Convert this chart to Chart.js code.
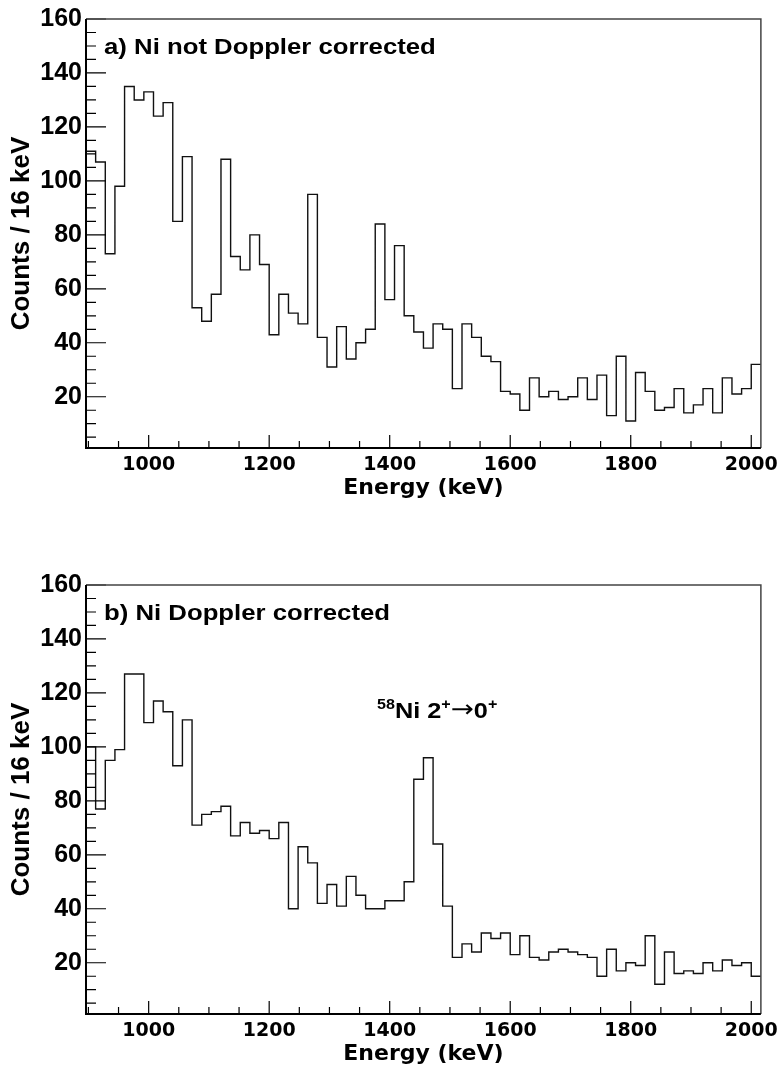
<!DOCTYPE html>
<html>
<head>
<meta charset="utf-8">
<script src="https://cdn.jsdelivr.net/npm/chart.js@4.4.1/dist/chart.umd.min.js"></script>
<style>
  body { margin: 0; background: #fff; }
  .panel { position: absolute; left: 0; width: 784px; height: 504px; }
</style>
</head>
<body>
<div class="panel" style="top:0px"><canvas id="panelA"></canvas></div>
<div class="panel" style="top:566px"><canvas id="panelB"></canvas></div>
<script>
// histogram binning (keV)
const binStart = 896;
const binWidth = 16;

// counts per 16 keV bin
const countsNotCorrected = [
  111, 107, 73, 98, 135, 130, 133, 124, 129, 85,
  109, 53, 48, 58, 108, 72, 67, 80, 69, 43,
  58, 51, 47, 95, 42, 31, 46, 34, 40, 45,
  84, 56, 76, 50, 44, 38, 47, 45, 23, 47,
  42, 35, 33, 22, 21, 15, 27, 20, 22, 19,
  20, 27, 19, 28, 13, 35, 11, 29, 22, 15,
  16, 23, 14, 17, 23, 14, 27, 21, 23, 32
];
const countsCorrected = [
  100, 77, 95, 99, 127, 127, 109, 117, 113, 93,
  110, 71, 75, 76, 78, 67, 72, 68, 69, 66,
  72, 40, 63, 57, 42, 49, 41, 52, 45, 40,
  40, 43, 43, 50, 88, 96, 64, 41, 22, 27,
  24, 31, 29, 31, 23, 30, 22, 21, 24, 25,
  24, 23, 22, 15, 25, 17, 20, 19, 30, 12,
  24, 16, 17, 16, 20, 17, 21, 19, 20, 15
];

// axis labels
const xMajorTicks = [1000, 1200, 1400, 1600, 1800, 2000];
const yMajorTicks = [20, 40, 60, 80, 100, 120, 140, 160];
const xMinorStep = 50;
const yMinorStep = 5;

const xMin = binStart;
const xMax = binStart + binWidth * countsCorrected.length;
const yMin = 1;
const yMax = 160;

function histPoints(counts) {
  const pts = counts.map((c, i) => ({ x: binStart + i * binWidth, y: c }));
  pts.push({ x: binStart + counts.length * binWidth, y: counts[counts.length - 1] });
  return pts;
}

function stepTicks(lo, hi, step) {
  const out = [];
  for (let v = Math.ceil(lo / step) * step; v <= hi; v += step) out.push({ value: v });
  return out;
}

// draws the text with a slight horizontal stretch like the original figure
function drawParts(ctx, parts, x, y, sx) {
  parts.forEach(p => {
    ctx.font = p.font;
    ctx.save();
    ctx.translate(x, y + (p.dy || 0));
    ctx.scale(sx, 1);
    ctx.fillText(p.text, 0, 0);
    ctx.restore();
    x += ctx.measureText(p.text).width * sx;
  });
}

const B = '"Liberation Sans", Arial, Helvetica, sans-serif';

const frameAndTicks = {
  id: 'frameAndTicks',
  afterDatasetsDraw(chart) {
    const { ctx, chartArea: a, scales: { x, y } } = chart;
    ctx.save();
    ctx.strokeStyle = '#000';
    ctx.lineWidth = 1.2;
    ctx.beginPath();
    x.ticks.forEach(t => {
      const px = x.getPixelForValue(t.value);
      const len = xMajorTicks.includes(t.value) ? 13 : 7;
      ctx.moveTo(px, a.bottom);
      ctx.lineTo(px, a.bottom - len);
    });
    y.ticks.forEach(t => {
      const py = y.getPixelForValue(t.value);
      const len = yMajorTicks.includes(t.value) ? 20 : 10;
      ctx.moveTo(a.left, py);
      ctx.lineTo(a.left + len, py);
    });
    ctx.stroke();
    // top and right frame
    ctx.strokeStyle = '#444';
    ctx.lineWidth = 1.5;
    ctx.beginPath();
    ctx.moveTo(a.left, a.top);
    ctx.lineTo(a.right, a.top);
    ctx.lineTo(a.right, a.bottom);
    ctx.stroke();
    // axes
    ctx.strokeStyle = '#000';
    ctx.lineWidth = 2;
    ctx.beginPath();
    ctx.moveTo(a.left, a.top);
    ctx.lineTo(a.left, a.bottom);
    ctx.lineTo(a.right, a.bottom);
    ctx.stroke();
    ctx.restore();
  }
};

function textPlugin(title, annotation) {
  return {
    id: 'panelText',
    afterDraw(chart) {
      const { ctx, chartArea: a } = chart;
      ctx.save();
      ctx.fillStyle = '#000';
      ctx.textBaseline = 'alphabetic';
      drawParts(ctx, [{ text: title, font: 'bold 22px ' + B }], a.left + 18, a.top + 35, 1.17);
      if (annotation) {
        drawParts(ctx, annotation, a.left + 291, a.top + 133, 1.15);
      }
      ctx.restore();
    }
  };
}

function makePanel(id, counts, title, annotation) {
  return new Chart(document.getElementById(id), {
    type: 'line',
    data: {
      datasets: [{
        data: histPoints(counts),
        stepped: 'before',
        borderColor: '#111',
        borderWidth: 1.4,
        pointRadius: 0,
        fill: false
      }]
    },
    options: {
      responsive: true,
      maintainAspectRatio: false,
      animation: false,
      events: [],
      layout: { padding: { top: 14, right: 22, left: 0, bottom: 0 } },
      plugins: { legend: { display: false }, tooltip: { enabled: false } },
      scales: {
        x: {
          type: 'linear',
          min: xMin,
          max: xMax,
          afterBuildTicks: s => { s.ticks = stepTicks(900, xMax, xMinorStep); },
          afterFit: s => { s.height = 56; },
          grid: { display: false, drawTicks: false },
          border: { display: false },
          ticks: {
            autoSkip: false,
            maxRotation: 0,
            padding: 6,
            color: '#000',
            font: { family: '"DejaVu Sans"', weight: 'bold', size: 19 },
            callback: v => xMajorTicks.includes(v) ? String(v) : ''
          },
          title: {
            display: true,
            text: 'Energy (keV)',
            color: '#000',
            font: { family: '"DejaVu Sans"', weight: 'bold', size: 22 },
            padding: { top: 0, bottom: 3 }
          }
        },
        y: {
          min: yMin,
          max: yMax,
          afterBuildTicks: s => { s.ticks = stepTicks(yMinorStep, yMax, yMinorStep); },
          afterFit: s => { s.width = 86; },
          grid: { display: false, drawTicks: false },
          border: { display: false },
          ticks: {
            autoSkip: false,
            padding: 4,
            labelOffset: 0,
            color: '#000',
            font: { family: B, weight: 'bold', size: 25 },
            callback: v => yMajorTicks.includes(v) ? String(v) : ''
          },
          title: {
            display: true,
            text: 'Counts / 16 keV',
            color: '#000',
            font: { family: B, weight: 'bold', size: 26 },
            padding: { top: 6, bottom: 0 }
          }
        }
      }
    },
    plugins: [frameAndTicks, textPlugin(title, annotation)]
  });
}

makePanel('panelA', countsNotCorrected, 'a) Ni not Doppler corrected', null);
makePanel('panelB', countsCorrected, 'b) Ni Doppler corrected', [
  { text: '58', font: 'bold 14px ' + B, dy: -9 },
  { text: 'Ni 2', font: 'bold 22px ' + B },
  { text: '+', font: 'bold 14px ' + B, dy: -9 },
  { text: '\u2192', font: '24px "DejaVu Sans"', dy: -1 },
  { text: '0', font: 'bold 22px ' + B },
  { text: '+', font: 'bold 14px ' + B, dy: -9 }
]);
</script>
</body>
</html>
